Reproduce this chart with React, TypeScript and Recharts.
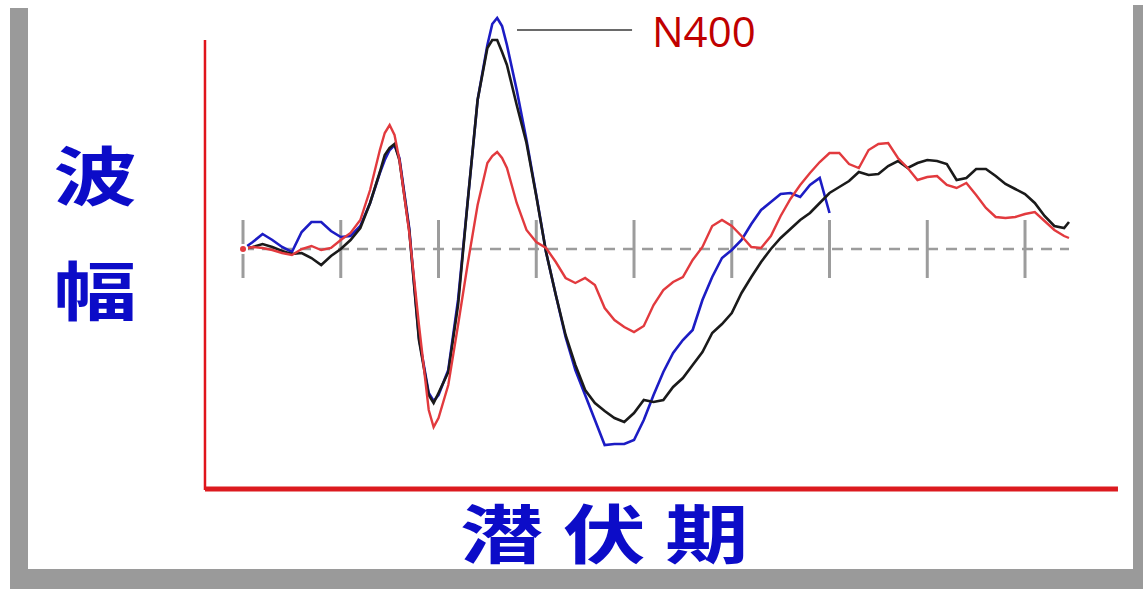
import React from 'react';
import { LineChart, Line, XAxis, YAxis, ReferenceLine } from 'recharts';

// latency (ms)
const times = [
  0, 10, 20, 30, 40, 50, 60, 70, 80, 90,
  100, 110, 120, 130, 140, 145, 150, 155, 160, 170,
  180, 190, 195, 200, 210, 220, 230, 240, 250, 255,
  260, 265, 270, 280, 290, 300, 310, 320, 330, 340,
  350, 360, 370, 380, 390, 400, 410, 420, 430, 440,
  450, 460, 470, 480, 490, 500, 510, 520, 530, 540,
  550, 560, 570, 580, 590, 600, 610, 620, 630, 640,
  650, 660, 670, 680, 690, 700, 710, 720, 730, 740,
  750, 760, 770, 780, 790, 800, 810, 820, 830, 840,
  845,
];

// amplitude (negative-up convention already applied: up = N)
const blackWave = [
  0, 0.2, 0.5, 0.2, -0.2, -0.5, -0.4, -0.9, -1.6, -0.7,
  0, 0.9, 2.1, 4.6, 7.7, 9.4, 10.1, 10.5, 8.9, 1.9,
  -9.1, -14.6, -15.4, -14.4, -12.3, -5.6, 4.9, 14.9, 20.1, 20.9,
  20.9, 19.7, 18.4, 14.4, 10.6, 5.3, -0.3, -4.6, -8.6, -11.6,
  -14.1, -15.4, -16.2, -16.9, -17.3, -16.4, -15.1, -15.3, -15.1, -13.8,
  -12.9, -11.6, -10.3, -8.4, -7.5, -6.4, -4.4, -2.8, -1.3, 0,
  1.1, 2.0, 2.9, 3.6, 4.6, 5.6, 6.2, 6.8, 7.7, 7.4,
  7.5, 8.3, 8.8, 8.1, 8.6, 8.9, 8.8, 8.5, 6.9, 7.1,
  8.0, 8.0, 7.3, 6.5, 6.0, 5.5, 4.6, 3.3, 2.3, 2.1,
  2.7,
];

const blueWave = [
  0, 0.7, 1.5, 0.9, 0.2, -0.3, 1.7, 2.7, 2.7, 1.8,
  1.2, 1.3, 2.3, 4.6, 7.6, 8.9, 9.9, 10.4, 9.1, 2.1,
  -8.9, -14.4, -15.2, -14.6, -12.1, -5.1, 4.9, 14.9, 20.4, 22.5,
  23.1, 22.3, 20.4, 15.9, 10.9, 5.4, -0.3, -4.6, -8.8, -12.1,
  -14.6, -17.1, -19.6, -19.5, -19.5, -19.1, -17.1, -14.6, -12.3, -10.4,
  -9.1, -8.1, -5.1, -2.8, -0.9, -0.1, 0.9, 2.5, 3.9, 4.7,
  5.5, 5.6, 5.2, 6.4, 7.1, 3.6,
];

const redWave = [
  0, 0.2, 0.1, -0.1, -0.4, -0.6, 0, 0.3, -0.1, 0.1,
  0.9, 1.6, 2.9, 5.9, 9.9, 11.6, 12.4, 11.4, 8.9, 1.7,
  -7.6, -16.1, -17.8, -16.9, -13.6, -7.6, -1.4, 4.4, 8.6, 9.3,
  9.7, 9.1, 8.1, 4.6, 1.9, 0.7, 0.1, -1.3, -2.9, -3.4,
  -2.9, -3.6, -5.9, -7.1, -7.8, -8.3, -7.7, -5.6, -4.1, -3.3,
  -2.8, -1.1, 0.2, 2.3, 2.9, 2.3, 1.3, 0.2, 0.1, 1.3,
  3.3, 5.0, 6.4, 7.6, 8.7, 9.6, 9.6, 8.5, 8.1, 9.9,
  10.5, 10.6, 9.1, 8.1, 6.9, 7.2, 7.3, 6.4, 6.1, 6.6,
  5.4, 4.1, 3.2, 3.1, 3.2, 3.5, 3.7, 2.8, 1.9, 1.3,
  1.1,
];

const tickTimes = [0, 100, 200, 300, 400, 500, 600, 700, 800];

const yLabelChars = ['波', '幅'];
const xLabel = '潜伏期';
const peakLabel = 'N400';

const data = times.map((t, i) => ({
  t,
  black: blackWave[i],
  blue: i < blueWave.length ? blueWave[i] : null,
  red: redWave[i],
}));

const W = 1143;
const H = 589;

export default function App() {
  const cjk = '"Noto Sans CJK SC", "Noto Sans CJK JP", sans-serif';
  const sx = 1.3;
  return (
    <div style={{ position: 'absolute', left: 0, top: 0, width: W, height: H, background: '#fff', overflow: 'hidden' }}>
      <div style={{ position: 'absolute', left: 10, top: 8, width: 18, height: H - 8, background: '#9a9a9a' }} />
      <div style={{ position: 'absolute', left: 10, top: 569, width: W - 10, height: 20, background: '#9a9a9a' }} />
      <div style={{ position: 'absolute', left: 1133, top: 5, width: 10, height: H - 5, background: '#9a9a9a' }} />
      <div style={{ position: 'absolute', left: 28, top: 0, width: 1105, height: 569, background: '#fff' }} />
      <div style={{ position: 'absolute', left: 0, top: 0 }}>
        <LineChart width={W} height={H} data={data} margin={{ top: 0, right: 0, bottom: 0, left: 0 }}>
          <XAxis dataKey="t" type="number" domain={[-248.6, 920.7]} hide />
          <YAxis type="number" domain={[-34, 24.9]} hide />
          {/* red L-shaped axes */}
          <ReferenceLine segment={[{ x: -38.9, y: 20.9 }, { x: -38.9, y: -24.1 }]} stroke="#e0141b" strokeWidth={2.5} />
          <ReferenceLine segment={[{ x: -38.9, y: -24.0 }, { x: 895.1, y: -24.0 }]} stroke="#dc1a1f" strokeWidth={5} />
          {/* dashed baseline */}
          <ReferenceLine segment={[{ x: 0, y: 0 }, { x: 845, y: 0 }]} stroke="#9c9c9c" strokeWidth={2.5} strokeDasharray="11 8" />
          {tickTimes.map((t) => (
            <ReferenceLine key={t} segment={[{ x: t, y: 2.9 }, { x: t, y: -2.9 }]} stroke="#9c9c9c" strokeWidth={3} />
          ))}
          {/* N400 connector */}
          <ReferenceLine segment={[{ x: 280.3, y: 21.9 }, { x: 398, y: 21.9 }]} stroke="#6a6a6a" strokeWidth={2} />
          <Line dataKey="blue" type="linear" stroke="#1c1cc4" strokeWidth={2.6} dot={false} isAnimationActive={false} connectNulls={false} />
          <Line dataKey="black" type="linear" stroke="#1a1a1a" strokeWidth={2.6} dot={false} isAnimationActive={false} />
          <Line dataKey="red" type="linear" stroke="#e23a3e" strokeWidth={2.4} dot={false} isAnimationActive={false} />
        </LineChart>
      </div>
      <svg width={W} height={H} style={{ position: 'absolute', left: 0, top: 0, pointerEvents: 'none' }}>
        <g transform={`scale(${sx},1)`}>
          <text x={95 / sx} y={200} textAnchor="middle" fontFamily={cjk} fontWeight={700} fontSize={64} fill="#0c0cc8">{yLabelChars[0]}</text>
          <text x={95 / sx} y={315} textAnchor="middle" fontFamily={cjk} fontWeight={700} fontSize={64} fill="#0c0cc8">{yLabelChars[1]}</text>
          <text x={(606 + 8) / sx} y={558} textAnchor="middle" fontFamily={cjk} fontWeight={700} fontSize={64} letterSpacing={15} fill="#0c0cc8">{xLabel}</text>
        </g>
        <text x={652} y={47} fontFamily='"Open Sans", sans-serif' fontSize={42} fill="#c00000">{peakLabel}</text>
      </svg>
    </div>
  );
}
